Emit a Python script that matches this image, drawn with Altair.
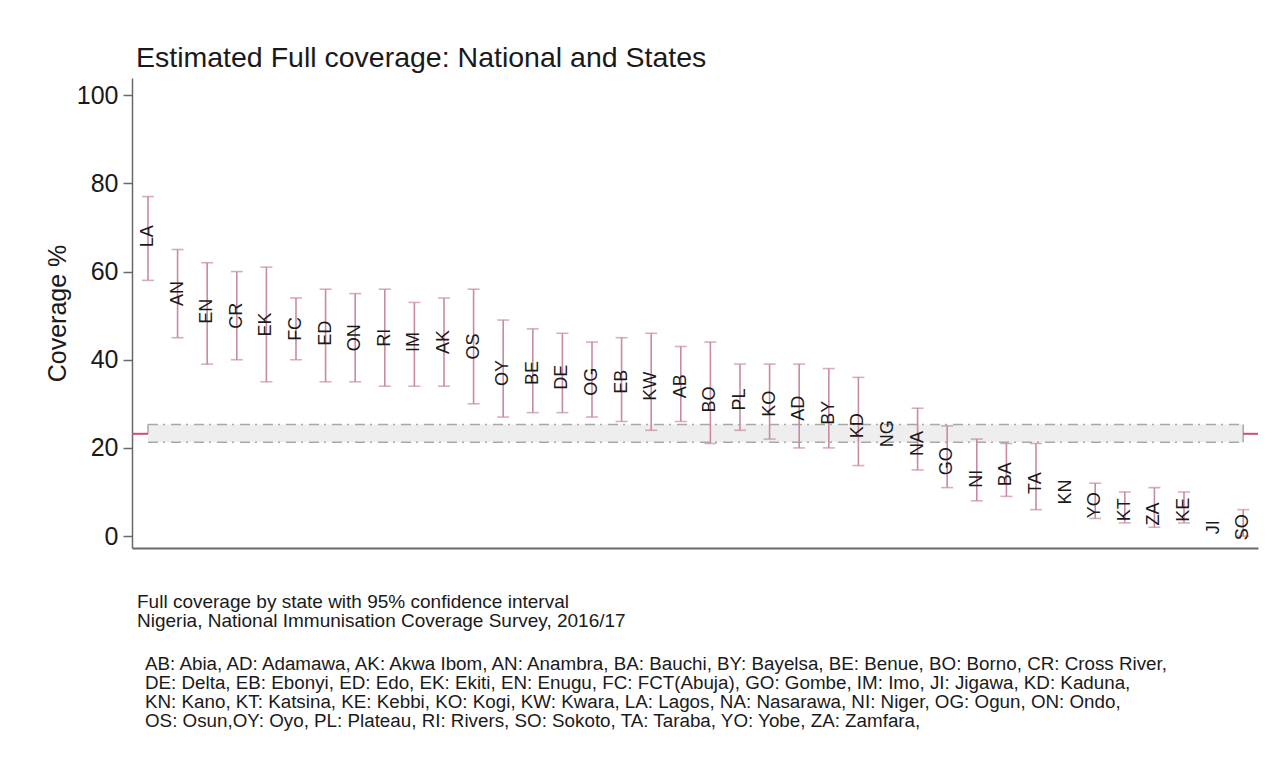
import altair as alt
import pandas as pd

# State codes ordered by estimated full coverage (NG = national estimate)
codes = ["LA", "AN", "EN", "CR", "EK", "FC", "ED", "ON", "RI", "IM", "AK", "OS",
         "OY", "BE", "DE", "OG", "EB", "KW", "AB", "BO", "PL", "KO", "AD", "BY",
         "KD", "NG", "NA", "GO", "NI", "BA", "TA", "KN", "YO", "KT", "ZA", "KE",
         "JI", "SO"]
estimate = [68, 55, 51, 50, 48, 47, 46, 45, 45, 44, 44, 43,
            37, 37, 36, 35, 35, 34, 34, 31, 31, 30, 29, 28,
            25, 23.2, 21, 17, 13, 14, 12, 10, 7, 6, 5, 6,
            2, 2]
ci_low = [58, 45, 39, 40, 35, 40, 35, 35, 34, 34, 34, 30,
          27, 28, 28, 27, 26, 24, 26, 21, 24, 22, 20, 20,
          16, None, 15, 11, 8, 9, 6, None, 4, 3, 2, 3,
          None, 0]
ci_high = [77, 65, 62, 60, 61, 54, 56, 55, 56, 53, 54, 56,
           49, 47, 46, 44, 45, 46, 43, 44, 39, 39, 39, 38,
           36, None, 29, 25, 22, 21, 21, None, 12, 10, 11, 10,
           None, 6]

# National estimate and its 95% confidence band
national = [23.2]
national_low = [21.3]
national_high = [25.3]

title_text = "Estimated Full coverage: National and States"
notes = ["Full coverage by state with 95% confidence interval",
         "Nigeria, National Immunisation Coverage Survey, 2016/17"]
abbreviations = [
    "AB: Abia, AD: Adamawa, AK: Akwa Ibom, AN: Anambra, BA: Bauchi, BY: Bayelsa, BE: Benue, BO: Borno, CR: Cross River,",
    "DE: Delta, EB: Ebonyi, ED: Edo, EK: Ekiti, EN: Enugu, FC: FCT(Abuja), GO: Gombe, IM: Imo, JI: Jigawa, KD: Kaduna,",
    "KN: Kano, KT: Katsina, KE: Kebbi, KO: Kogi, KW: Kwara, LA: Lagos, NA: Nasarawa, NI: Niger, OG: Ogun, ON: Ondo,",
    "OS: Osun,OY: Oyo, PL: Plateau, RI: Rivers, SO: Sokoto, TA: Taraba, YO: Yobe, ZA: Zamfara,",
]

FONT = "Liberation Sans"
TEXT_COLOR = "#1a1a1a"
CI_COLOR = "#c88aa4"
NAT_COLOR = "#c9506f"
BAND_LINE = "#a8a8a8"

n = len(codes)
X_MIN, X_MAX = -0.54, n - 0.5
Y_MIN, Y_MAX = -2.7, 103.9

states = pd.DataFrame({
    "idx": list(range(n)),
    "code": codes,
    "est": estimate,
    "lo": ci_low,
    "hi": ci_high,
})

xs = alt.Scale(domain=[X_MIN, X_MAX], nice=False, zero=False)
ys = alt.Scale(domain=[Y_MIN, Y_MAX], nice=False, zero=False)

x_axis = alt.Axis(labels=False, ticks=False, title=None, grid=False,
                  domainColor="#6a6a6a", domainWidth=2)
y_axis = alt.Axis(values=[0, 20, 40, 60, 80, 100], title="Coverage %",
                  grid=False, tickSize=9, labelPadding=5, titlePadding=6,
                  labelFontSize=25, titleFontSize=25, labelColor=TEXT_COLOR,
                  titleColor=TEXT_COLOR, labelFont=FONT, titleFont=FONT,
                  titleFontWeight="normal", domainColor="#6a6a6a",
                  tickColor="#6a6a6a", domainWidth=1.5, tickWidth=1.5)

band = pd.DataFrame({
    "x0": [0], "x1": [n - 1],
    "lo": national_low, "hi": national_high, "nat": national,
    "xmin": [X_MIN], "xmax": [X_MAX],
})

band_fill = alt.Chart(band).mark_rect(color="#eeeeee").encode(
    x=alt.X("x0:Q", scale=xs, axis=x_axis),
    x2="x1:Q",
    y=alt.Y("lo:Q", scale=ys, axis=y_axis),
    y2="hi:Q",
)
band_low = alt.Chart(band).mark_rule(
    color=BAND_LINE, strokeWidth=1.5, strokeDash=[10, 5, 2, 6]
).encode(x=alt.X("x0:Q", scale=xs), x2="x1:Q", y=alt.Y("lo:Q", scale=ys))
band_high = alt.Chart(band).mark_rule(
    color=BAND_LINE, strokeWidth=1.5, strokeDash=[10, 5, 2, 6]
).encode(x=alt.X("x0:Q", scale=xs), x2="x1:Q", y=alt.Y("hi:Q", scale=ys))
band_right_edge = alt.Chart(band).mark_rule(color=BAND_LINE, strokeWidth=1.5).encode(
    x=alt.X("x1:Q", scale=xs), y=alt.Y("lo:Q", scale=ys), y2="hi:Q")
band_left_edge = alt.Chart(band).mark_rule(color=BAND_LINE, strokeWidth=1.5).encode(
    x=alt.X("x0:Q", scale=xs), y=alt.Y("nat:Q", scale=ys), y2="hi:Q")

nat_left = alt.Chart(band).mark_rule(color=NAT_COLOR, strokeWidth=2).encode(
    x=alt.X("xmin:Q", scale=xs), x2="x0:Q", y=alt.Y("nat:Q", scale=ys))
nat_right = alt.Chart(band).mark_rule(color=NAT_COLOR, strokeWidth=2).encode(
    x=alt.X("x1:Q", scale=xs), x2="xmax:Q", y=alt.Y("nat:Q", scale=ys))

with_ci = alt.Chart(states).transform_filter("isValid(datum.lo)")
ci_rules = with_ci.mark_rule(color=CI_COLOR, strokeWidth=1.6).encode(
    x=alt.X("idx:Q", scale=xs), y=alt.Y("lo:Q", scale=ys), y2="hi:Q")
cap_low = with_ci.mark_tick(color=CI_COLOR, orient="horizontal", size=12,
                            thickness=1.6).encode(
    x=alt.X("idx:Q", scale=xs), y=alt.Y("lo:Q", scale=ys))
cap_high = with_ci.mark_tick(color=CI_COLOR, orient="horizontal", size=12,
                             thickness=1.6).encode(
    x=alt.X("idx:Q", scale=xs), y=alt.Y("hi:Q", scale=ys))

labels = alt.Chart(states).mark_text(
    angle=270, font=FONT, fontSize=18, color=TEXT_COLOR,
    align="center", baseline="middle"
).encode(x=alt.X("idx:Q", scale=xs), y=alt.Y("est:Q", scale=ys), text="code:N")

# Heading and footnotes placed in the padding around the plot area
title_df = pd.DataFrame({"t": [title_text]})
title_mark = alt.Chart(title_df).mark_text(
    font=FONT, fontSize=28.5, color=TEXT_COLOR, align="left", baseline="alphabetic"
).encode(x=alt.value(4), y=alt.value(-11), text="t:N")

notes_df = pd.DataFrame({"t": ["\n".join(notes)]})
notes_mark = alt.Chart(notes_df).mark_text(
    font=FONT, fontSize=19, color=TEXT_COLOR, align="left", baseline="alphabetic",
    lineBreak="\n", lineHeight=19
).encode(x=alt.value(5), y=alt.value(530), text="t:N")

abbr_df = pd.DataFrame({"t": ["\n".join(abbreviations)]})
abbr_mark = alt.Chart(abbr_df).mark_text(
    font=FONT, fontSize=18.8, color=TEXT_COLOR, align="left", baseline="alphabetic",
    lineBreak="\n", lineHeight=19
).encode(x=alt.value(13), y=alt.value(592), text="t:N")

chart = alt.layer(
    band_fill, band_low, band_high, band_right_edge, band_left_edge,
    nat_left, nat_right, ci_rules, cap_low, cap_high, labels,
    title_mark, notes_mark, abbr_mark,
).properties(
    width=1126, height=470,
    autosize=alt.AutoSizeParams(type="none"),
    padding={"left": 132, "top": 78, "right": 25, "bottom": 210},
    background="white",
).configure_view(stroke=None)

chart.save("out.html", embed_options={"renderer": "svg", "actions": False})
